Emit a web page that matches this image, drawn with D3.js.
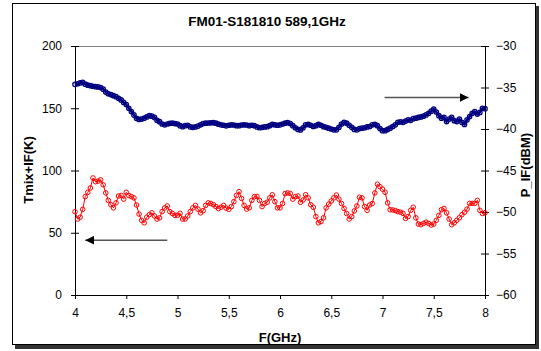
<!DOCTYPE html>
<html><head><meta charset="utf-8">
<script src="https://cdn.jsdelivr.net/npm/d3@7"></script>
<style>
body{margin:0;background:#fff;}
svg{display:block;font-family:"Liberation Sans",Arial,sans-serif;}
</style></head>
<body><svg id="c" width="541" height="351"></svg>
<script>
const title = "FM01-S181810 589,1GHz";
const xLabel = "F(GHz)";
const yLeftLabel = "Tmix+IF(K)";
const yRightLabel = "P_IF(dBM)";
const xTicks = [4, 4.5, 5, 5.5, 6, 6.5, 7, 7.5, 8];
const yLeftTicks = [0, 50, 100, 150, 200];
const yRightTicks = [-60, -55, -50, -45, -40, -35, -30];
const freqStart = 4, freqStep = 0.025;
// P_IF (dBm), right axis
const pIF = [
-34.62,-34.55,-34.45,-34.38,-34.6,-34.72,-34.78,-34.85,-34.9,-34.93,
-35.0,-35.2,-35.55,-35.75,-35.85,-35.98,-36.1,-36.3,-36.5,-36.8,
-37.05,-37.5,-37.9,-38.3,-38.71,-38.85,-38.8,-38.7,-38.55,-38.4,
-38.45,-38.6,-38.95,-39.12,-39.4,-39.5,-39.4,-39.32,-39.3,-39.35,
-39.4,-39.6,-39.72,-39.6,-39.55,-39.75,-39.8,-39.75,-39.65,-39.5,
-39.35,-39.3,-39.28,-39.25,-39.24,-39.3,-39.42,-39.5,-39.55,-39.62,
-39.55,-39.5,-39.52,-39.6,-39.6,-39.52,-39.5,-39.52,-39.6,-39.55,
-39.6,-39.75,-39.85,-39.8,-39.75,-39.72,-39.6,-39.45,-39.5,-39.55,
-39.5,-39.4,-39.3,-39.22,-39.35,-39.6,-39.85,-40.05,-40.12,-39.85,
-39.5,-39.45,-39.55,-39.7,-39.6,-39.45,-39.55,-39.72,-39.8,-39.9,
-40.0,-40.1,-40.1,-39.8,-39.4,-39.2,-39.3,-39.55,-39.8,-40.05,
-40.1,-39.95,-39.9,-39.85,-39.75,-39.7,-39.5,-39.44,-39.6,-39.95,
-40.2,-40.2,-40.05,-39.9,-39.7,-39.5,-39.2,-39.15,-39.2,-39.05,
-38.9,-38.95,-38.75,-38.7,-38.6,-38.55,-38.45,-38.3,-38.1,-37.85,
-37.6,-37.95,-38.4,-38.7,-38.6,-39.1,-38.8,-38.6,-39.0,-39.1,
-38.8,-39.2,-39.45,-38.9,-38.5,-38.1,-37.9,-38.2,-38.0,-37.5,
-37.55];
// Tmix+IF (K), left axis
const tmix = [
66.9,61,62.5,68.8,79,82.5,86,94,91,91.5,
92.5,88.5,82,76,72.5,70,74,79.5,80,77,
82.5,80,79,78,72.3,65,60,58,62.5,64.5,
66,63.5,61,62,67,70,71.5,67,65.5,64,
64,65.6,61,61,63.5,67,70,72,69,66,
67.7,72,74,73.5,72.5,71,69.5,70.5,72,69.8,
68.8,71,75,80,83,77.6,72,69,70,76,
79,79.2,76,71,73.5,74.5,78,80.5,75,70,
70,73.5,81.5,82,81.5,77,79,79.5,74.5,76.3,
80.5,78,72.5,70.5,63,58,59,62,70,73,
75.5,78,80.3,77,73.5,69.5,65.5,61,63,67.5,
71.5,78.5,78,71,68,72.3,73.5,82,89,87,
85,82.5,74,68.5,68.3,67.8,67,66.5,65.6,61.5,
63,68,70.5,62,57,56.5,57.5,58.5,57.5,56.2,
57,60,64,68.5,69.5,66,61,56.5,58,60,
62,64.5,66.5,69,73.6,73.6,73.6,76,68,65.5,
66];
const freqs = tmix.map((_, i) => +(freqStart + i * freqStep).toFixed(3));

const svg = d3.select("#c");
const L = 75, R = 485, T = 46, B = 295;
const x = d3.scaleLinear().domain([4, 8]).range([L, R]);
const yL = d3.scaleLinear().domain([0, 200]).range([B, T]);
const yR = d3.scaleLinear().domain([-60, -30]).range([B, T]);
const fmt = d => String(d).replace(".", ",");

// outer frame with shadow
svg.append("rect").attr("x", 15).attr("y", 6).attr("width", 524).attr("height", 343).attr("fill", "#333");
svg.append("rect").attr("x", 12.5).attr("y", 3.5).attr("width", 523).attr("height", 341).attr("fill", "#fff").attr("stroke", "#000").attr("stroke-width", 1);

// plot area top border
svg.append("line").attr("x1", L).attr("x2", R).attr("y1", T + 0.5).attr("y2", T + 0.5).attr("stroke", "#808080");

// axes
const axX = svg.append("g").attr("transform", `translate(0,${B})`)
  .call(d3.axisBottom(x).tickValues(xTicks).tickFormat(fmt).tickSize(4).tickSizeOuter(0).tickPadding(9));
const axL = svg.append("g").attr("transform", `translate(${L},0)`)
  .call(d3.axisLeft(yL).tickValues(yLeftTicks).tickSize(4).tickSizeOuter(0).tickPadding(9));
const axR = svg.append("g").attr("transform", `translate(${R},0)`)
  .call(d3.axisRight(yR).tickValues(yRightTicks).tickSize(4).tickSizeOuter(0).tickPadding(7));
[axX, axL, axR].forEach(g => {
  g.selectAll("path").attr("stroke", "#000");
  g.selectAll("line").attr("stroke", "#000");
  g.selectAll("text").attr("font-size", 12).attr("fill", "#000").attr("font-family", "Liberation Sans, Arial, sans-serif");
});
// cross ticks: inner parts
axL.selectAll(".tick line").attr("x2", 4).attr("x1", -4);
axR.selectAll(".tick line").attr("x1", -4).attr("x2", 4);

// titles
svg.append("text").attr("x", 267).attr("y", 26).attr("text-anchor", "middle")
  .attr("font-size", 13.5).attr("font-weight", "bold").text(title);
svg.append("text").attr("x", 280).attr("y", 342).attr("text-anchor", "middle")
  .attr("font-size", 13).attr("font-weight", "bold").text(xLabel);
svg.append("text").attr("transform", "translate(33,170) rotate(-90)").attr("text-anchor", "middle")
  .attr("font-size", 13).attr("font-weight", "bold").text(yLeftLabel);
svg.append("text").attr("transform", "translate(530,165) rotate(-90)").attr("text-anchor", "middle")
  .attr("font-size", 13).attr("font-weight", "bold").text(yRightLabel);

const plot = svg.append("g");
// red series (left axis)
plot.append("path").datum(freqs.map((f, i) => [f, tmix[i]]))
  .attr("fill", "none").attr("stroke", "#ff0000").attr("stroke-width", 1)
  .attr("d", d3.line().x(d => x(d[0])).y(d => yL(d[1])));
plot.selectAll("circle.r").data(freqs.map((f, i) => [f, tmix[i]])).join("circle").attr("class", "r")
  .attr("cx", d => x(d[0])).attr("cy", d => yL(d[1])).attr("r", 2.3)
  .attr("fill", "none").attr("stroke", "#ff0000").attr("stroke-width", 1);
// blue series (right axis)
plot.append("path").datum(freqs.map((f, i) => [f, pIF[i]]))
  .attr("fill", "none").attr("stroke", "#000080").attr("stroke-width", 2.5)
  .attr("d", d3.line().x(d => x(d[0])).y(d => yR(d[1])));
plot.selectAll("circle.b").data(freqs.map((f, i) => [f, pIF[i]])).join("circle").attr("class", "b")
  .attr("cx", d => x(d[0])).attr("cy", d => yR(d[1])).attr("r", 2.2)
  .attr("fill", "none").attr("stroke", "#000080").attr("stroke-width", 1.3);

// arrows
const defs = svg.append("defs");
defs.append("marker").attr("id", "ah").attr("viewBox", "0 0 10 10").attr("refX", 10).attr("refY", 5)
  .attr("markerWidth", 9).attr("markerHeight", 9).attr("markerUnits", "userSpaceOnUse").attr("orient", "auto")
  .append("path").attr("d", "M0,0L10,5L0,10Z").attr("fill", "#000");
svg.append("line").attr("x1", x(7.02)).attr("y1", yR(-36.2)).attr("x2", x(7.84)).attr("y2", yR(-36.2))
  .attr("stroke", "#555").attr("stroke-width", 1.5).attr("marker-end", "url(#ah)");
svg.append("line").attr("x1", x(4.9)).attr("y1", yL(44)).attr("x2", x(4.1)).attr("y2", yL(44))
  .attr("stroke", "#555").attr("stroke-width", 1.5).attr("marker-end", "url(#ah)");
</script></body></html>
